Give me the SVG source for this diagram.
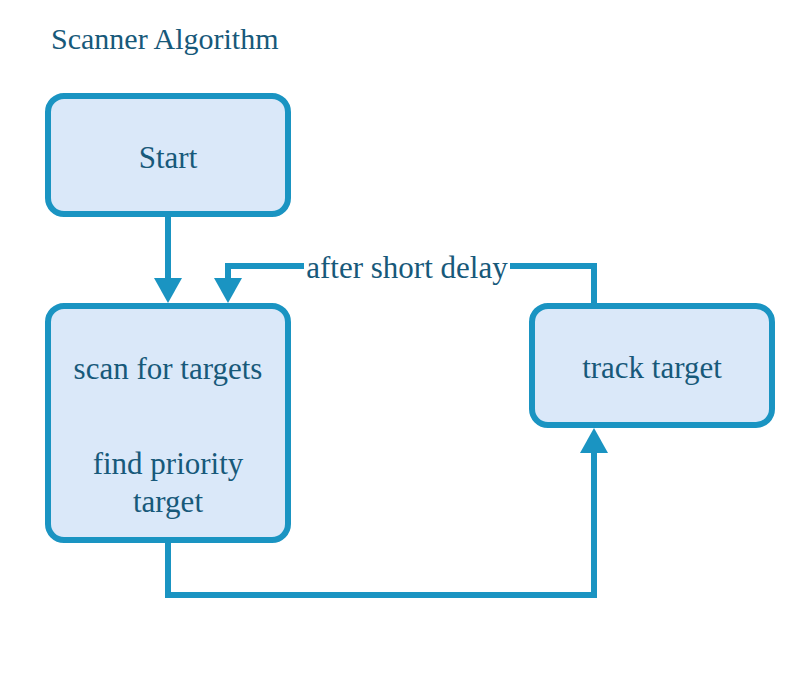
<svg xmlns="http://www.w3.org/2000/svg" width="810" height="674" viewBox="0 0 810 674">
<style>
.box{fill:#dae8f9;stroke:#1a94c2;stroke-width:6}
.t{font-size:31px;fill:#17597a;text-anchor:middle}
.c{fill:none;stroke:#1a94c2;stroke-width:6}
.ah{fill:#1a94c2}
</style>
<rect width="810" height="674" fill="#ffffff"/>
<g font-family="Liberation Serif, DejaVu Serif, serif">
<text x="51" y="49" class="t" style="text-anchor:start;font-size:30px">Scanner Algorithm</text>
<g id="connectors">
<path class="c" d="M168,214 V280"/>
<polygon class="ah" points="154,278 182,278 168,303"/>
<path class="c" d="M594,306 V266 H228 V280"/>
<polygon class="ah" points="214,278 242,278 228,303"/>
<rect x="304" y="252" width="206" height="32" fill="#ffffff"/>
<text x="407" y="278" class="t">after short delay</text>
<path class="c" d="M168,540 V595 H594 V450"/>
<polygon class="ah" points="580,453 608,453 594,428"/>
</g>
<g id="start">
<rect class="box" x="48" y="96" width="240" height="118" rx="16"/>
<text x="168" y="168" class="t">Start</text>
</g>
<g id="scan">
<rect class="box" x="48" y="306" width="240" height="234" rx="16"/>
<text x="168" y="379" class="t">scan for targets</text>
<text x="168" y="474" class="t">find priority</text>
<text x="168" y="512" class="t">target</text>
</g>
<g id="track">
<rect class="box" x="532" y="306" width="240" height="119" rx="16"/>
<text x="652" y="378" class="t">track target</text>
</g>
</g>
</svg>
